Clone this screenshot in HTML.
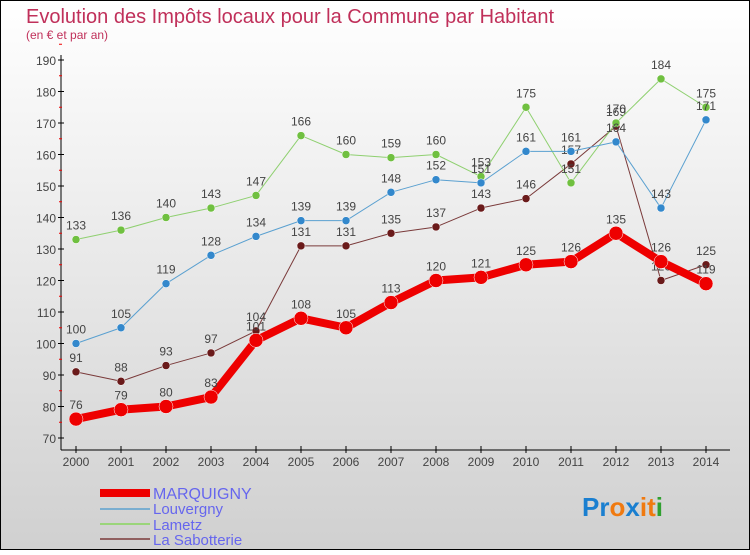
<!DOCTYPE html>
<html><head><meta charset="utf-8"><style>
body{margin:0;width:750px;height:550px;overflow:hidden;font-family:"Liberation Sans",sans-serif}
</style></head><body>
<svg width="750" height="550" xmlns="http://www.w3.org/2000/svg">
<defs><linearGradient id="bg" x1="0" y1="0" x2="0" y2="1"><stop offset="0" stop-color="#ffffff"/><stop offset="1" stop-color="#d0d0d0"/></linearGradient></defs>
<rect x="0.5" y="0.5" width="749" height="549" fill="url(#bg)" stroke="#000"/>
<text x="26" y="23" font-size="20" fill="#c0305a">Evolution des Impôts locaux pour la Commune par Habitant</text>
<text x="26" y="39" font-size="12" fill="#c0305a">(en € et par an)</text>
<g id="axes"></g>
<g id="series"></g>
<g id="legend">
<rect x="100" y="489" width="50" height="8" fill="#e00"/>
<text x="153" y="499" font-size="16" fill="#6666ee">MARQUIGNY</text>
<rect x="100" y="508" width="50" height="2" fill="#7aaed0"/>
<text x="153" y="514" font-size="15" fill="#6666ee">Louvergny</text>
<rect x="100" y="523" width="50" height="2" fill="#9ad57a"/>
<text x="153" y="530" font-size="15" fill="#6666ee">Lametz</text>
<rect x="100" y="538" width="50" height="2" fill="#906060"/>
<text x="153" y="545" font-size="15" fill="#6666ee">La Sabotterie</text>
</g>
<text x="582" y="516" font-size="26" font-weight="bold"><tspan fill="#1a7fd0">Pr</tspan><tspan fill="#f07a10">o</tspan><tspan fill="#1a7fd0">x</tspan><tspan fill="#f07a10">i</tspan><tspan fill="#f07a10">t</tspan><tspan fill="#30a030">i</tspan></text>
</svg>
<script>
const years=[2000,2001,2002,2003,2004,2005,2006,2007,2008,2009,2010,2011,2012,2013,2014];
const marquigny=[76,79,80,83,101,108,105,113,120,121,125,126,135,126,119];
const louvergny=[100,105,119,128,134,139,139,148,152,151,161,161,164,143,171];
const lametz=[133,136,140,143,147,166,160,159,160,153,175,151,170,184,175];
const sabotterie=[91,88,93,97,104,131,131,135,137,143,146,157,169,120,125];
const yTicks=[70,80,90,100,110,120,130,140,150,160,170,180,190];
const NS="http://www.w3.org/2000/svg";
const x=i=>76+i*45;
const y=v=>438-(v-70)*3.15;
function mk(tag,attrs,parent){const e=document.createElementNS(NS,tag);for(const k in attrs)e.setAttribute(k,attrs[k]);parent.appendChild(e);return e;}
const ax=document.getElementById('axes');
let a=mk('line',{x1:61,y1:55,x2:61,y2:450,stroke:'#000'},ax);


a=mk('line',{x1:61,y1:450,x2:730,y2:450,stroke:'#000'},ax);


yTicks.forEach(v=>{
  mk('line',{x1:58,y1:y(v),x2:64,y2:y(v),stroke:'#000'},ax);
  mk('line',{x1:59,y1:y(v+5),x2:62,y2:y(v+5),stroke:'#e00'},ax);
  const t=mk('text',{x:56,y:y(v)+5,'font-size':12,fill:'#444','text-anchor':'end'},ax);
  t.textContent=v;
  
  
});
years.forEach((yr,i)=>{
  mk('line',{x1:x(i),y1:446,x2:x(i),y2:453,stroke:'#000'},ax);
  const t=mk('text',{x:x(i),y:466,'font-size':12,fill:'#444','text-anchor':'middle'},ax);
  t.textContent=yr;
  
  
});
const sg=document.getElementById('series');
function draw(vals,color,dot,w,r,name){
  const g=mk('g',{},sg);
  
  
  const p=mk('polyline',{points:vals.map((v,i)=>x(i)+','+y(v)).join(' '),fill:'none',stroke:color,'stroke-width':w,'stroke-linejoin':'round'},g);
  
  
  vals.forEach((v,i)=>{
    const c=mk('circle',{cx:x(i),cy:y(v),r:r,fill:dot,stroke:'#fff','stroke-width':0.5},g);
    
    
    const t=mk('text',{x:x(i),y:y(v)-10,'font-size':12,fill:'#444','text-anchor':'middle'},g);
    t.textContent=v;
    
    
  });
}
draw(sabotterie,'#7a3a3a','#6a1a1a',1,4,'la-sabotterie');
draw(lametz,'#8fd070','#70c040',1,4,'lametz');
draw(louvergny,'#5aa0d0','#3388cc',1,4,'louvergny');
draw(marquigny,'#ee0000','#ee0000',8,7,'marquigny');
</script>
</body></html>
